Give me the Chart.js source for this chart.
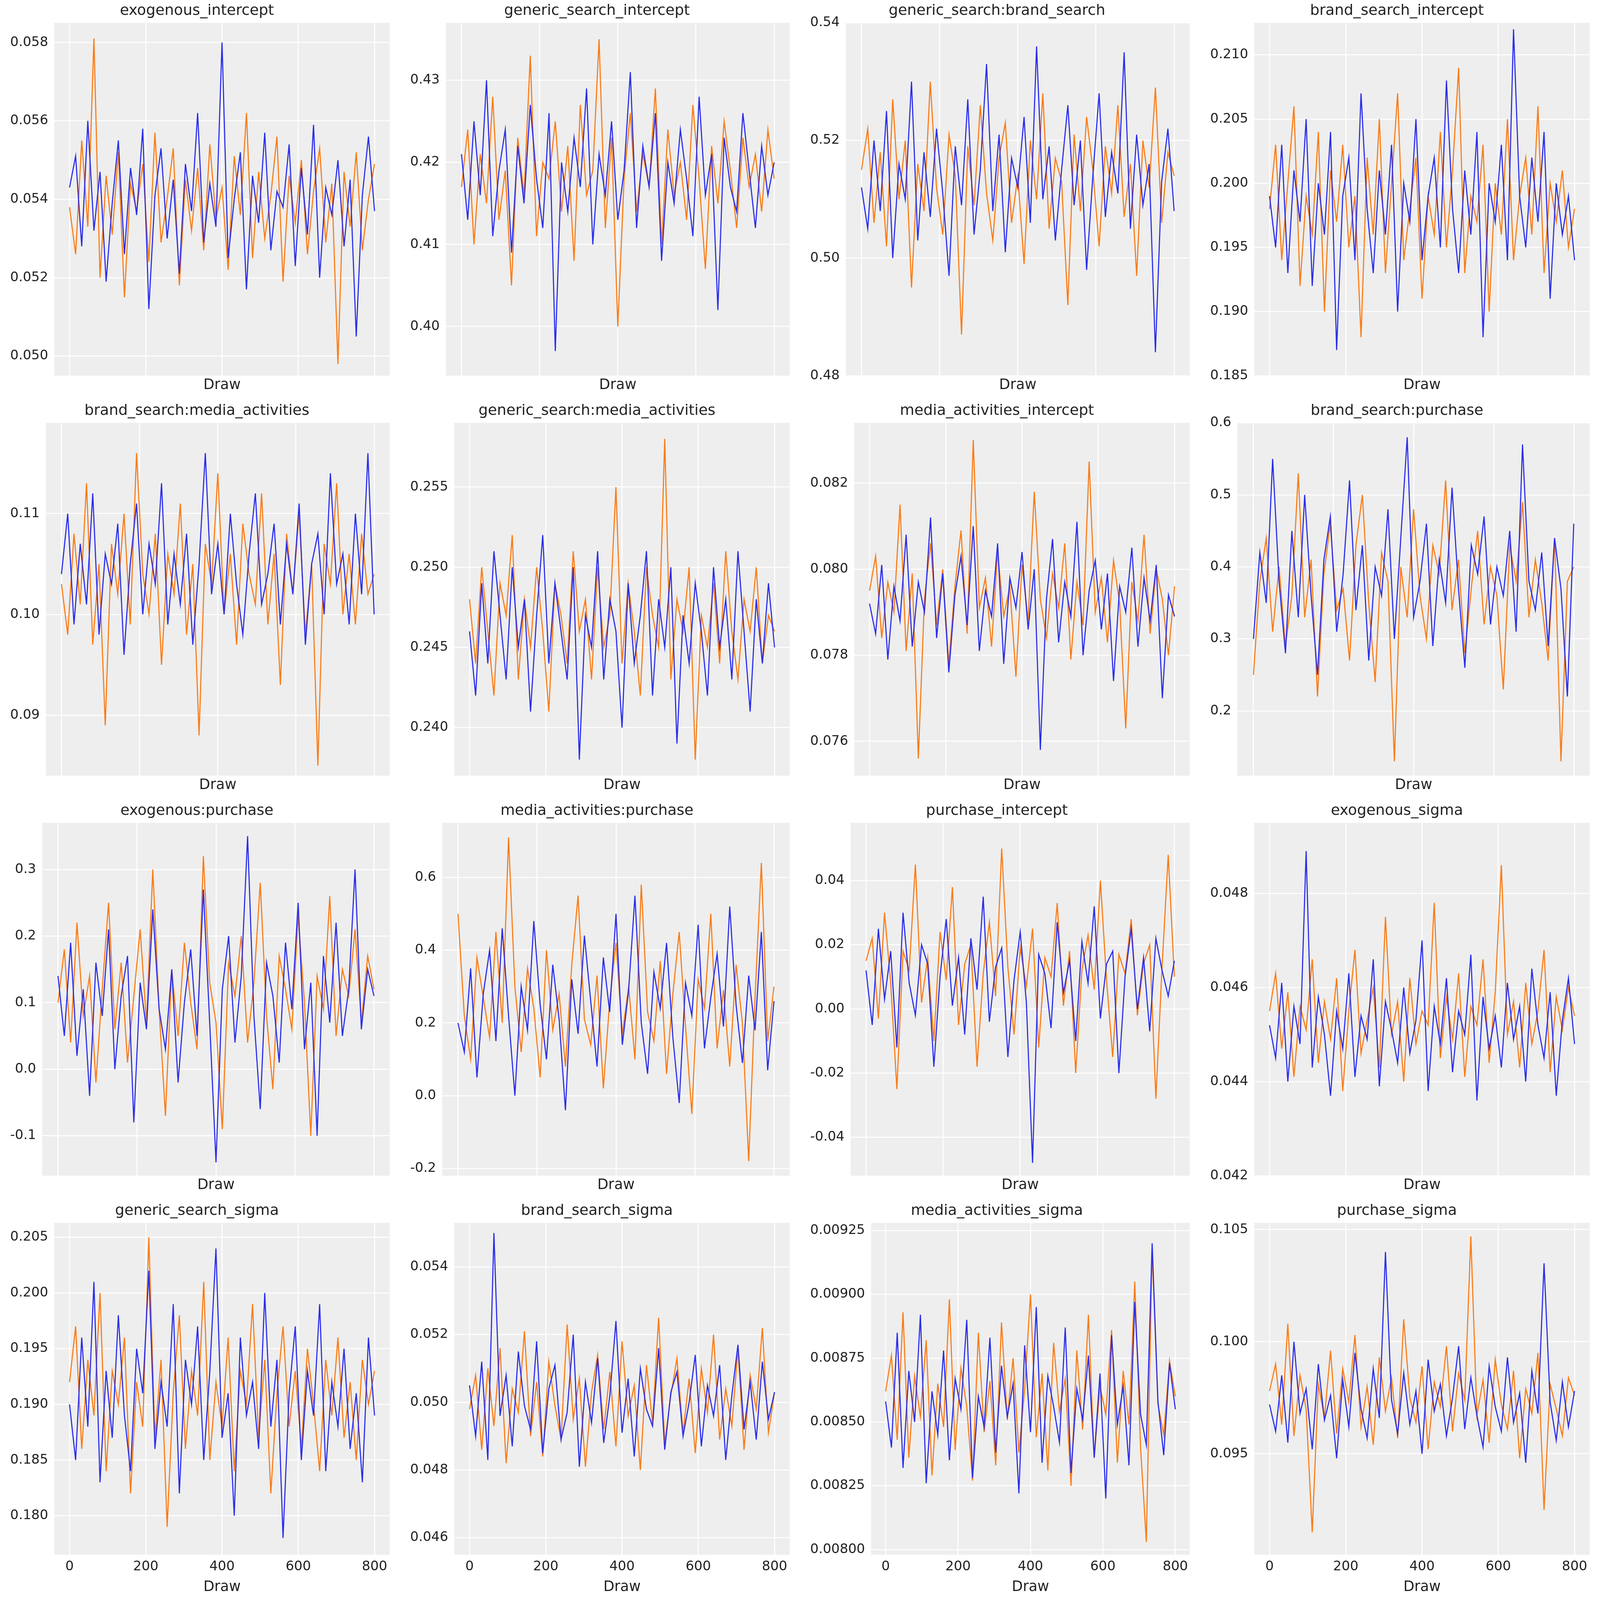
<!DOCTYPE html>
<html><head><meta charset="utf-8">
<script src="https://cdn.jsdelivr.net/npm/chart.js@4/dist/chart.umd.min.js"></script>
<style>html,body{margin:0;background:#fff;overflow:hidden;width:100%;height:100%}#wrap{position:relative}canvas{position:absolute}</style>
</head><body><div id="wrap"></div>
<script>
const titles=["exogenous_intercept","generic_search_intercept","generic_search:brand_search","brand_search_intercept","brand_search:media_activities","generic_search:media_activities","media_activities_intercept","brand_search:purchase","exogenous:purchase","media_activities:purchase","purchase_intercept","exogenous_sigma","generic_search_sigma","brand_search_sigma","media_activities_sigma","purchase_sigma"];
const xTicks=[0,200,400,600,800];
const yMin=[0.0495,0.394,0.480,0.185,0.084,0.237,0.0752,0.11,-0.16,-0.22,-0.052,0.042,0.1765,0.0455,0.00798,0.0905];
const yMax=[0.0585,0.437,0.540,0.2125,0.119,0.259,0.0834,0.60,0.37,0.75,0.058,0.0495,0.2063,0.0553,0.00928,0.1053];
const yStep=[0.002,0.01,0.02,0.005,0.01,0.005,0.002,0.1,0.1,0.2,0.02,0.002,0.005,0.002,0.00025,0.005];
const yDec=[3,2,2,3,2,3,3,1,1,1,2,3,3,3,5,3];
const chainA=[
[.0543,.0551,.0528,.0560,.0532,.0547,.0519,.0539,.0555,.0526,.0548,.0536,.0558,.0512,.0541,.0553,.0530,.0545,.0521,.0549,.0537,.0562,.0529,.0544,.0533,.0580,.0525,.0540,.0552,.0517,.0546,.0534,.0557,.0527,.0542,.0538,.0554,.0523,.0548,.0531,.0559,.0520,.0543,.0536,.0550,.0528,.0545,.0505,.0541,.0556,.0537],
[.421,.413,.425,.416,.430,.411,.419,.424,.409,.422,.415,.427,.418,.412,.426,.397,.420,.414,.423,.417,.429,.410,.421,.416,.425,.413,.419,.431,.412,.422,.417,.426,.408,.420,.415,.424,.418,.411,.428,.416,.421,.402,.423,.417,.414,.426,.419,.412,.422,.416,.420],
[.512,.505,.520,.508,.525,.500,.516,.510,.530,.503,.518,.507,.522,.511,.497,.519,.509,.527,.504,.515,.533,.508,.521,.501,.517,.512,.524,.506,.536,.510,.519,.503,.515,.526,.509,.520,.498,.514,.528,.507,.518,.511,.535,.505,.521,.509,.516,.484,.513,.522,.508],
[.199,.195,.203,.193,.201,.197,.205,.192,.200,.196,.204,.187,.199,.202,.194,.207,.198,.193,.201,.196,.203,.190,.200,.197,.205,.194,.199,.202,.195,.208,.198,.193,.201,.196,.204,.188,.200,.197,.203,.194,.212,.199,.195,.202,.197,.204,.191,.200,.196,.199,.194],
[.104,.110,.099,.107,.101,.112,.098,.106,.103,.109,.096,.105,.111,.100,.107,.103,.113,.099,.106,.101,.108,.097,.105,.116,.102,.107,.100,.110,.103,.098,.106,.112,.101,.104,.109,.099,.107,.102,.111,.097,.105,.108,.100,.114,.103,.106,.099,.110,.102,.116,.100],
[.246,.242,.249,.244,.251,.247,.243,.250,.245,.248,.241,.247,.252,.244,.249,.246,.243,.250,.238,.247,.245,.251,.243,.248,.246,.240,.249,.244,.247,.251,.242,.248,.245,.250,.239,.247,.244,.249,.246,.242,.250,.245,.248,.243,.251,.246,.241,.248,.244,.249,.245],
[.0792,.0785,.0801,.0779,.0796,.0788,.0808,.0782,.0797,.0790,.0812,.0784,.0799,.0776,.0794,.0803,.0787,.0810,.0781,.0795,.0789,.0806,.0778,.0798,.0791,.0804,.0786,.0800,.0758,.0793,.0807,.0783,.0797,.0789,.0811,.0780,.0795,.0802,.0786,.0799,.0774,.0796,.0790,.0805,.0782,.0798,.0788,.0801,.0770,.0794,.0789],
[.30,.42,.35,.55,.38,.28,.45,.33,.50,.36,.25,.41,.47,.31,.39,.52,.34,.43,.27,.40,.36,.48,.30,.44,.58,.33,.38,.46,.29,.41,.35,.51,.37,.26,.43,.39,.47,.32,.40,.36,.45,.31,.57,.38,.34,.42,.29,.44,.37,.22,.46],
[.14,.05,.19,.02,.12,-.04,.16,.08,.21,.00,.11,.17,-.08,.13,.06,.24,.09,.03,.15,-.02,.10,.18,.05,.27,.07,-.14,.12,.20,.04,.14,.35,.08,-.06,.16,.11,.01,.19,.09,.25,.03,.13,-.10,.17,.07,.22,.05,.12,.30,.06,.15,.11],
[.20,.12,.35,.05,.28,.40,.15,.46,.22,.00,.30,.18,.48,.25,.10,.36,.21,-.04,.32,.17,.44,.26,.08,.38,.23,.50,.14,.29,.55,.20,.06,.34,.24,.42,.16,-.02,.31,.22,.47,.13,.27,.39,.19,.52,.25,.09,.33,.18,.45,.07,.26],
[.012,-.005,.025,.003,.018,-.012,.030,.008,-.002,.020,.014,-.018,.010,.028,.001,.016,-.008,.022,.006,.035,-.004,.013,.019,-.015,.009,.024,.002,-.048,.017,.011,-.006,.027,.005,.015,-.010,.021,.008,.032,-.003,.014,.018,-.020,.010,.025,.000,.016,-.007,.022,.012,.004,.015],
[.0452,.0445,.0461,.0440,.0456,.0448,.0489,.0443,.0458,.0450,.0437,.0455,.0447,.0463,.0441,.0454,.0449,.0466,.0439,.0457,.0451,.0444,.0460,.0446,.0453,.0470,.0438,.0456,.0448,.0462,.0442,.0455,.0450,.0467,.0436,.0458,.0447,.0454,.0443,.0461,.0449,.0456,.0440,.0464,.0452,.0445,.0459,.0437,.0453,.0462,.0448],
[.190,.185,.196,.188,.201,.183,.193,.187,.198,.189,.184,.195,.191,.202,.186,.192,.188,.199,.182,.194,.190,.197,.185,.193,.204,.187,.191,.180,.196,.189,.192,.186,.200,.188,.194,.178,.191,.197,.185,.193,.189,.199,.184,.192,.188,.195,.186,.191,.183,.196,.189],
[.0505,.0490,.0512,.0483,.0550,.0496,.0508,.0487,.0515,.0499,.0492,.0518,.0485,.0504,.0511,.0489,.0497,.0520,.0481,.0506,.0494,.0513,.0488,.0502,.0524,.0491,.0507,.0484,.0510,.0498,.0493,.0516,.0486,.0503,.0509,.0490,.0500,.0514,.0487,.0505,.0496,.0511,.0483,.0502,.0517,.0492,.0506,.0489,.0512,.0495,.0503],
[.00858,.00840,.00885,.00832,.00870,.00850,.00892,.00826,.00862,.00845,.00878,.00835,.00867,.00855,.00890,.00828,.00860,.00848,.00883,.00838,.00872,.00852,.00865,.00822,.00880,.00846,.00895,.00834,.00868,.00856,.00842,.00887,.00830,.00863,.00851,.00876,.00836,.00869,.00820,.00884,.00849,.00864,.00833,.00897,.00853,.00841,.00920,.00858,.00837,.00873,.00855],
[.0972,.0960,.0985,.0955,.1000,.0968,.0979,.0952,.0990,.0965,.0976,.0948,.0983,.0962,.0995,.0970,.0957,.0988,.0966,.1040,.0974,.0959,.0986,.0963,.0978,.0950,.0992,.0969,.0981,.0958,.0975,.0998,.0961,.0984,.0967,.0953,.0989,.0971,.0960,.0993,.0964,.0977,.0946,.0987,.0968,.1035,.0973,.0956,.0982,.0962,.0978]];
const chainB=[
[.0538,.0526,.0555,.0533,.0581,.0520,.0546,.0531,.0552,.0515,.0544,.0537,.0549,.0524,.0557,.0529,.0540,.0553,.0518,.0545,.0532,.0548,.0527,.0554,.0535,.0543,.0522,.0551,.0536,.0562,.0525,.0547,.0530,.0541,.0556,.0519,.0546,.0534,.0550,.0526,.0542,.0553,.0529,.0544,.0498,.0547,.0533,.0552,.0527,.0540,.0549],
[.417,.424,.410,.421,.415,.428,.413,.419,.405,.423,.416,.433,.411,.420,.418,.425,.414,.422,.408,.427,.416,.419,.435,.412,.423,.400,.418,.426,.414,.421,.417,.429,.410,.424,.416,.420,.413,.427,.418,.407,.422,.415,.425,.419,.412,.423,.417,.421,.414,.424,.418],
[.515,.522,.506,.518,.502,.527,.510,.520,.495,.516,.508,.530,.512,.504,.521,.514,.487,.519,.509,.526,.511,.503,.517,.523,.506,.514,.499,.520,.510,.528,.505,.517,.513,.492,.521,.508,.524,.515,.502,.519,.511,.526,.507,.516,.497,.520,.512,.529,.506,.518,.514],
[.198,.203,.194,.200,.206,.192,.199,.196,.204,.190,.201,.197,.203,.195,.199,.188,.202,.196,.205,.193,.200,.207,.194,.198,.202,.191,.199,.196,.204,.195,.201,.209,.193,.199,.197,.203,.190,.200,.196,.205,.194,.199,.202,.196,.206,.193,.200,.197,.201,.195,.198],
[.103,.098,.108,.101,.113,.097,.105,.089,.107,.102,.110,.099,.116,.104,.100,.108,.095,.106,.102,.111,.098,.105,.088,.107,.103,.114,.100,.106,.097,.109,.104,.101,.112,.099,.106,.093,.108,.102,.110,.098,.105,.085,.107,.103,.113,.100,.106,.099,.108,.102,.104],
[.248,.244,.250,.246,.242,.249,.247,.252,.243,.248,.245,.250,.246,.241,.249,.247,.244,.251,.246,.248,.243,.250,.245,.247,.255,.244,.249,.246,.242,.250,.247,.245,.258,.243,.248,.246,.250,.238,.247,.245,.249,.244,.251,.246,.243,.248,.246,.250,.244,.247,.246],
[.0795,.0803,.0784,.0797,.0790,.0815,.0781,.0799,.0756,.0793,.0806,.0787,.0800,.0778,.0796,.0809,.0785,.0830,.0791,.0798,.0782,.0804,.0789,.0796,.0775,.0801,.0788,.0818,.0793,.0784,.0799,.0791,.0806,.0779,.0797,.0787,.0825,.0790,.0798,.0783,.0802,.0792,.0763,.0797,.0788,.0808,.0785,.0800,.0793,.0780,.0796],
[.25,.38,.44,.31,.40,.29,.36,.53,.33,.41,.22,.39,.46,.34,.37,.27,.43,.50,.35,.24,.42,.38,.13,.40,.33,.48,.36,.30,.43,.39,.52,.34,.41,.28,.37,.45,.32,.40,.36,.23,.43,.38,.49,.33,.41,.35,.27,.44,.13,.38,.40],
[.10,.18,.04,.22,.08,.14,-.02,.12,.25,.06,.16,.01,.11,.21,.07,.30,.09,-.07,.15,.05,.19,.10,.03,.32,.13,.07,-.09,.16,.11,.20,.04,.13,.28,.08,-.03,.17,.12,.06,.23,.10,-.10,.14,.09,.26,.05,.15,.11,.21,.07,.17,.12],
[.50,.22,.10,.38,.27,.16,.45,.20,.71,.30,.12,.35,.24,.05,.40,.18,.28,.08,.36,.55,.21,.14,.33,.02,.26,.42,.17,.30,.10,.58,.23,.15,.37,.06,.28,.45,.19,-.05,.32,.24,.50,.13,.29,.08,.36,.20,-.18,.27,.64,.15,.30],
[.015,.022,-.003,.030,.008,-.025,.018,.012,.045,.002,.016,-.010,.024,.009,.038,-.005,.014,.020,-.018,.011,.027,.004,.050,.013,-.008,.019,.007,.025,-.012,.016,.010,.033,.001,.018,-.020,.012,.023,.006,.040,.009,-.015,.017,.011,.028,-.002,.014,.020,-.028,.013,.048,.010],
[.0455,.0463,.0447,.0459,.0441,.0456,.0451,.0466,.0444,.0457,.0449,.0462,.0438,.0455,.0468,.0446,.0453,.0460,.0443,.0475,.0450,.0457,.0440,.0462,.0448,.0455,.0452,.0478,.0445,.0458,.0449,.0463,.0441,.0456,.0452,.0466,.0444,.0459,.0486,.0450,.0457,.0443,.0461,.0448,.0455,.0468,.0442,.0458,.0451,.0460,.0454],
[.192,.197,.186,.194,.189,.200,.184,.193,.190,.196,.182,.192,.188,.205,.187,.194,.179,.191,.198,.186,.193,.189,.201,.185,.192,.188,.196,.184,.193,.190,.199,.187,.194,.182,.191,.197,.188,.193,.186,.195,.190,.184,.194,.189,.196,.187,.192,.185,.194,.190,.193],
[.0498,.0508,.0486,.0510,.0493,.0516,.0482,.0504,.0497,.0521,.0490,.0506,.0484,.0512,.0499,.0489,.0523,.0495,.0507,.0481,.0503,.0514,.0492,.0509,.0487,.0518,.0496,.0505,.0480,.0511,.0494,.0525,.0488,.0502,.0513,.0491,.0507,.0485,.0510,.0497,.0520,.0489,.0504,.0493,.0516,.0486,.0508,.0498,.0522,.0491,.0503],
[.00862,.00876,.00843,.00893,.00836,.00868,.00852,.00882,.00829,.00865,.00848,.00898,.00839,.00871,.00856,.00827,.00885,.00846,.00866,.00833,.00889,.00851,.00875,.00838,.00863,.00900,.00844,.00869,.00831,.00881,.00854,.00867,.00825,.00878,.00847,.00892,.00836,.00864,.00853,.00886,.00834,.00870,.00849,.00905,.00840,.00803,.00918,.00857,.00845,.00874,.00860],
[.0978,.0990,.0963,.1008,.0958,.0985,.0970,.0915,.0981,.0966,.0996,.0959,.0988,.0973,.1003,.0962,.0980,.0954,.0993,.0969,.0984,.0957,.1010,.0975,.0964,.0989,.0952,.0982,.0971,.0998,.0960,.0986,.0974,.1047,.0967,.0983,.0955,.0992,.0972,.0961,.0987,.0948,.0979,.0968,.0995,.0925,.0981,.0970,.0958,.0984,.0976]];

const bgPlugin={id:'bg',beforeDraw(c){const a=c.chartArea,x=c.ctx;x.save();x.fillStyle='#eeeeee';x.fillRect(a.left,a.top,a.right-a.left,a.bottom-a.top);x.restore();}};
const toPts=arr=>arr.map((v,i)=>({x:i*800/(arr.length-1),y:v}));
function build(){
  const W=window.innerWidth||document.documentElement.clientWidth||7246;
  const H=window.innerHeight||document.documentElement.clientHeight||4846;
  const S=Math.min(W/1568,H/1046), CW=W/4, CH=H/4;
  const wrap=document.getElementById('wrap');
  wrap.style.width=W+'px';wrap.style.height=H+'px';
  titles.forEach((t,k)=>{
    const r=Math.floor(k/4),c=k%4;
    const cv=document.createElement('canvas');
    cv.width=Math.floor(CW);cv.height=Math.floor(CH);
    cv.style.left=Math.round(c*CW)+'px';cv.style.top=Math.round(r*CH)+'px';
    wrap.appendChild(cv);
    const last=r===3;
    new Chart(cv,{type:'line',
      data:{datasets:[
        {data:toPts(chainA[k]),borderColor:'#2a2eec',borderWidth:1.1*S,pointRadius:0,tension:0},
        {data:toPts(chainB[k]),borderColor:'#fa7c17',borderWidth:1.1*S,pointRadius:0,tension:0}]},
      plugins:[bgPlugin],
      options:{responsive:false,animation:false,devicePixelRatio:window.devicePixelRatio||1,
        layout:{padding:{left:4*S,right:10*S,top:2*S,bottom:last?4*S:6*S}},
        plugins:{legend:{display:false},tooltip:{enabled:false},
          title:{display:true,text:t,color:'#222',font:{family:'DejaVu Sans',size:14.5*S,weight:'normal'},padding:{top:0,bottom:3*S}}},
        scales:{
          x:{type:'linear',min:-40,max:840,
            afterBuildTicks:ax=>{ax.ticks=xTicks.map(v=>({value:v}));},
            grid:{color:'#ffffff',lineWidth:1*S,drawTicks:false},border:{display:false},
            ticks:{display:last,color:'#222',font:{family:'DejaVu Sans',size:13*S},padding:4*S},
            title:{display:true,text:'Draw',color:'#222',font:{family:'DejaVu Sans',size:14*S},padding:{top:last?0:1*S,bottom:0}}},
          y:{min:yMin[k],max:yMax[k],
            grid:{color:'#ffffff',lineWidth:1*S,drawTicks:false},border:{display:false},
            ticks:{stepSize:yStep[k],includeBounds:false,color:'#222',font:{family:'DejaVu Sans',size:13*S},padding:6*S,
              callback:v=>Number(v).toFixed(yDec[k])}}}}});
  });
}
if(document.readyState==='complete')build();else window.addEventListener('load',build);
</script></body></html>
